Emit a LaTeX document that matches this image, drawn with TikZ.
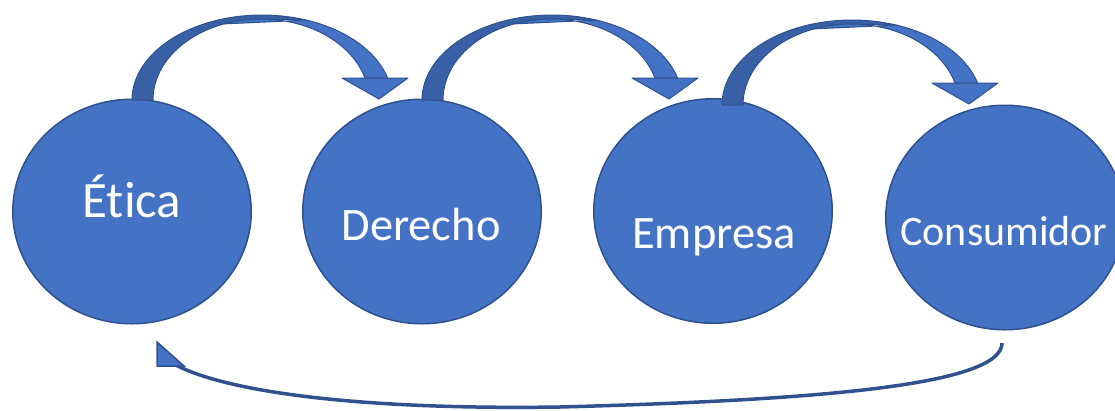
\documentclass[tikz,border=0pt]{standalone}
\usepackage{fontspec}
\setmainfont{Carlito}[Ligatures=NoCommon]
\usetikzlibrary{shapes.geometric,arrows.meta}
\definecolor{c1}{HTML}{4472C4}
\definecolor{cd}{HTML}{3760A5}
\definecolor{cb}{HTML}{2F528F}
\begin{document}
\begin{tikzpicture}[x=1pt,y=-1pt,
  circ/.style={ellipse, fill=c1, draw=cb, line width=1.5pt, minimum width=238.5pt, minimum height=224.5pt, inner sep=0pt},
  lbl/.style={text=white, anchor=base, inner sep=0pt},
  band/.style={draw=cb, line width=1pt, line join=round},
  barrow/.pic={
    \path[band, fill=cd] plot[domain=180:290,samples=40] ({130+130*cos(\x)},{85*sin(\x)})
      -- plot[domain=270:180,samples=40] ({129+108*cos(\x)},{81*sin(\x)}) -- cycle;
    \path[band, fill=c1] plot[domain=250:344.24,samples=40] ({129+108*cos(\x)},{81*sin(\x)})
      -- plot[domain=345:290,samples=40] ({130+130*cos(\x)},{85*sin(\x)}) -- cycle;
    \path[band, fill=c1] (210,-22) -- (276,-22) -- (247,-1) -- cycle;
  }]
\useasboundingbox (0,0) rectangle (1115,410);
% circles
\node[circ] (eti) at (132,211.5) {};
\node[circ] (der) at (422,211.5) {};
\node[circ] (emp) at (713,211) {};
\node[circ] (con) at (1005,217.5) {};
% curved block arrows
\pic (a1) at (132,100) {barrow};
\pic (a2) at (422,100) {barrow};
\pic (a3) at (722,105) {barrow};
% labels
\node[lbl, font=\fontsize{51}{51}\selectfont] (teti) at (132,217) {Ética};
\node[lbl, font=\fontsize{46.5}{46.5}\selectfont] (tder) at (421,240) {Derecho};
\node[lbl, font=\fontsize{46.5}{46.5}\selectfont] (temp) at (714,248) {Empresa};
\node[lbl, font=\fontsize{42}{42}\selectfont] (tcon) at (1004,245) {Consumidor};
% return arrow
\coordinate (bs) at (1002,343);
\coordinate (be) at (174,364);
\coordinate (h1) at (157,342);
\coordinate (h2) at (157,366);
\coordinate (h3) at (184,366);
\draw[cb, line width=3.5pt]
  (bs) .. controls (1002,385) and (820,400) .. (560,407) .. controls (360,410) and (225,392) .. (be);
\path[fill=c1, draw=cb, line width=1.5pt, line join=miter] (h1) -- (h2) -- (h3) -- cycle;
\end{tikzpicture}
\end{document}
